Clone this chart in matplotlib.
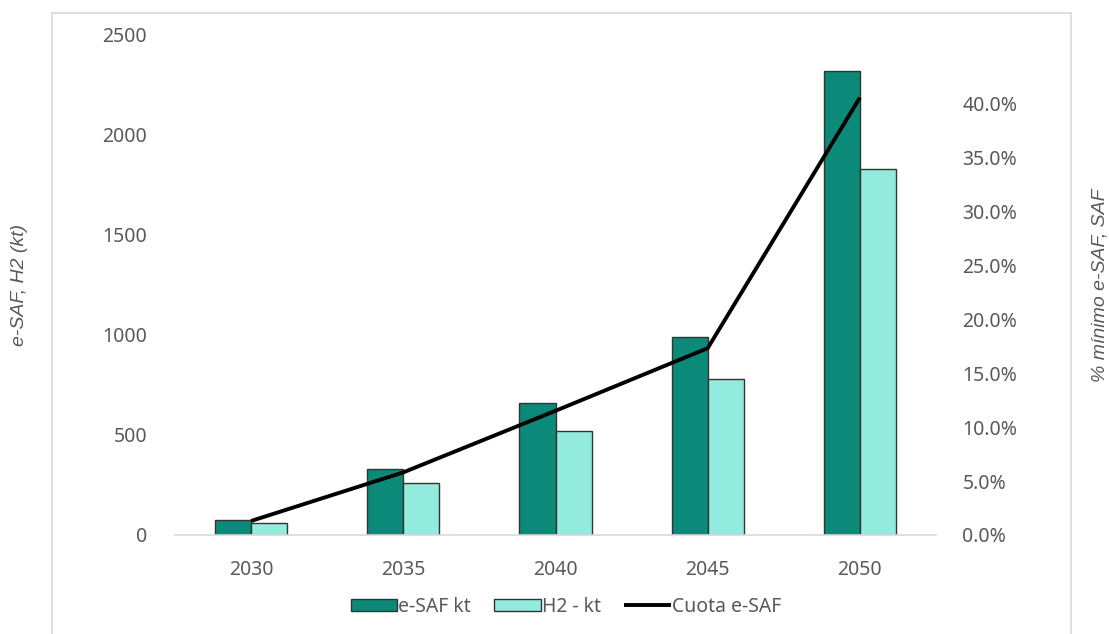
import numpy as np
import matplotlib.pyplot as plt
from matplotlib.patches import Rectangle
from matplotlib.ticker import PercentFormatter

years = ["2030", "2035", "2040", "2045", "2050"]
esaf_kt = [75, 330, 660, 990, 2320]
h2_kt = [60, 260, 520, 780, 1830]
cuota_esaf = [0.013, 0.058, 0.115, 0.173, 0.405]

TEXT = "#595959"
FONT = ["Noto Sans", "DejaVu Sans"]
LABEL_FONT = ["Liberation Sans Narrow", "Liberation Sans", "DejaVu Sans"]

plt.rcParams["font.family"] = FONT

W, H = 1109, 634
fig = plt.figure(figsize=(W / 100, H / 100), dpi=100)
ax = fig.add_axes([175 / W, (H - 535) / H, 761 / W, 500 / H])
ax2 = ax.twinx()

# light frame of the chart area
fig.patches.append(Rectangle((52 / W, -0.05), (1071 - 52) / W, 1.05 - 13 / H,
                             transform=fig.transFigure, fill=False,
                             edgecolor="#D9D9D9", linewidth=1.2))

x = np.arange(len(years))
width = 0.237
b1 = ax.bar(x - width / 2, esaf_kt, width, color="#0B8A7A", edgecolor="#333333",
            linewidth=1.0, label="e-SAF kt", zorder=2)
b2 = ax.bar(x + width / 2, h2_kt, width, color="#92EBDC", edgecolor="#333333",
            linewidth=1.0, label="H2 - kt", zorder=2)
ln, = ax2.plot(x, cuota_esaf, color="black", linewidth=2.8, label="Cuota e-SAF",
               solid_capstyle="butt")

ax.set_xlim(-0.5, 4.5)
ax.set_ylim(0, 2500)
ax.set_yticks(np.arange(0, 2501, 500))
ax.set_xticks(x, years)
ax2.set_ylim(0, 0.463)
ax2.set_yticks(np.arange(0, 0.401, 0.05))
ax2.yaxis.set_major_formatter(PercentFormatter(1.0, decimals=1))

for a in (ax, ax2):
    for s in a.spines.values():
        s.set_visible(False)
    a.tick_params(length=0, colors=TEXT, labelsize=14)
ax.tick_params(axis="y", pad=20)
ax.tick_params(axis="x", pad=18)
ax2.tick_params(axis="y", pad=19)
ax.spines["bottom"].set_visible(True)
ax.spines["bottom"].set_color("#D9D9D9")
ax.spines["bottom"].set_linewidth(1.2)

fig.text(20 / W, 1 - 285 / H, "e-SAF, H2 (kt)", rotation=90, ha="center", va="center",
         fontsize=14, style="italic", color=TEXT, family=LABEL_FONT)
fig.text(1100 / W, 1 - 285 / H, "% mínimo e-SAF, SAF", rotation=90, ha="center",
         va="center", fontsize=14, style="italic", color=TEXT, family=LABEL_FONT)

fig.legend(handles=[b1, b2, ln], loc="center", bbox_to_anchor=(566 / W, 1 - 607 / H),
           ncol=3, frameon=False, fontsize=14, labelcolor=TEXT, handlelength=2.4,
           handleheight=0.6, handletextpad=0.05, columnspacing=1.2)

fig.savefig("out.png", dpi=100)
